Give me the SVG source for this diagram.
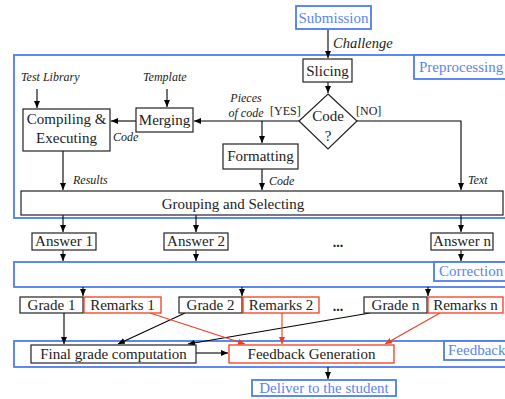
<svg xmlns="http://www.w3.org/2000/svg" width="505" height="399" viewBox="0 0 505 399">
<defs>
<marker id="ah" markerUnits="userSpaceOnUse" markerWidth="8" markerHeight="7" refX="7" refY="3" orient="auto"><path d="M0,0 L7,3 L0,6 z" fill="#000"/></marker>
<marker id="ahr" markerUnits="userSpaceOnUse" markerWidth="8" markerHeight="7" refX="7" refY="3" orient="auto"><path d="M0,0 L7,3 L0,6 z" fill="#f23c1e"/></marker>
</defs>
<style>
text{font-family:"Liberation Serif","Times New Roman",serif;font-size:15px;fill:#222}
.c{text-anchor:middle}
.it{font-style:italic;font-size:12px}
.bl{fill:#5a84f0}
.sm{font-size:12px}
.box{fill:#fff;stroke:#222;stroke-width:1.2}
.rbox{fill:#fff;stroke:#f23c1e;stroke-width:1.3}
.bbox{fill:none;stroke:#4d7cf2;stroke-width:1.8}
.blab{fill:#fff;stroke:#4d7cf2;stroke-width:1.8}
.ln{fill:none;stroke:#000;stroke-width:1.1}
.rl{fill:none;stroke:#f23c1e;stroke-width:1.1}
.dots{font-weight:bold;font-size:14px}
</style>
<g id="preprocessing">
<rect class="bbox" x="14" y="55" width="495" height="163"/>
<rect class="blab" x="414" y="55" width="95" height="24"/>
<text class="bl" x="419" y="72">Preprocessing</text>
</g>
<g id="correction">
<rect class="bbox" x="14" y="262" width="495" height="25"/>
<rect class="blab" x="434" y="262" width="75" height="19"/>
<text class="bl" x="439" y="276">Correction</text>
</g>
<g id="feedback">
<rect class="bbox" x="14" y="341" width="495" height="26"/>
<rect class="blab" x="444" y="341" width="65" height="19"/>
<text class="bl" x="448" y="355">Feedback</text>
</g>
<g id="connectors">
<path class="ln" d="M328,29 V58" marker-end="url(#ah)"/>
<path class="ln" d="M328,82 V93" marker-end="url(#ah)"/>
<path class="ln" d="M299,121 H194" marker-end="url(#ah)"/>
<path class="ln" d="M262,121 V143" marker-end="url(#ah)"/>
<path class="ln" d="M357,121 H461 V190" marker-end="url(#ah)"/>
<path class="ln" d="M136,121 H111" marker-end="url(#ah)"/>
<path class="ln" d="M37,89 V108" marker-end="url(#ah)"/>
<path class="ln" d="M167,89 V107" marker-end="url(#ah)"/>
<path class="ln" d="M63,151 V190" marker-end="url(#ah)"/>
<path class="ln" d="M262,169 V190" marker-end="url(#ah)"/>
<path class="ln" d="M63,215 V232" marker-end="url(#ah)"/>
<path class="ln" d="M196,215 V232" marker-end="url(#ah)"/>
<path class="ln" d="M461,215 V232" marker-end="url(#ah)"/>
<path class="ln" d="M63,250 V261" marker-end="url(#ah)"/>
<path class="ln" d="M196,250 V261" marker-end="url(#ah)"/>
<path class="ln" d="M461,250 V261" marker-end="url(#ah)"/>
<path class="ln" d="M83,287 V296" marker-end="url(#ah)"/>
<path class="ln" d="M242,287 V296" marker-end="url(#ah)"/>
<path class="ln" d="M428,287 V296" marker-end="url(#ah)"/>
<path class="ln" d="M64,313 V344" marker-end="url(#ah)"/>
<path class="ln" d="M185,313 L118,344" marker-end="url(#ah)"/>
<path class="ln" d="M370,313 L188,344" marker-end="url(#ah)"/>
<path class="rl" d="M150,313 L245,344" marker-end="url(#ahr)"/>
<path class="rl" d="M282,313 V344" marker-end="url(#ahr)"/>
<path class="rl" d="M440,313 L385,344" marker-end="url(#ahr)"/>
<path class="ln" d="M196,353 H228" marker-end="url(#ah)"/>
<path class="ln" d="M328,367 V379" marker-end="url(#ah)"/>
<text class="it" x="333" y="48" style="font-size:14.5px">Challenge</text>
<text class="it" x="21" y="81">Test Library</text>
<text class="it" x="143" y="81">Template</text>
<text class="it c" x="246" y="102">Pieces</text>
<text class="it c" x="246" y="117">of code</text>
<text class="sm" x="270" y="115">[YES]</text>
<text class="sm" x="356" y="115">[NO]</text>
<text class="it" x="113" y="141">Code</text>
<text class="it" x="73" y="184">Results</text>
<text class="it" x="269" y="185">Code</text>
<text class="it" x="468" y="184">Text</text>
</g>
<g id="submission">
<rect class="blab" x="296" y="6" width="75" height="23"/>
<text class="bl c" x="333.5" y="23">Submission</text>
</g>
<g id="slicing">
<rect class="box" x="303" y="59" width="49" height="23"/>
<text class="c" x="327.5" y="75.5">Slicing</text>
</g>
<g id="decision">
<path class="box" d="M328,94 L357,121 L328,149 L299,121 z"/>
<text class="c" x="328" y="121">Code</text>
<text class="c" x="328" y="141">?</text>
</g>
<g id="merging">
<rect class="box" x="136" y="108" width="57" height="24"/>
<text class="c" x="164.5" y="125">Merging</text>
</g>
<g id="compiling">
<rect class="box" x="23" y="109" width="87" height="42"/>
<text class="c" x="66.5" y="124">Compiling &amp;</text>
<text class="c" x="66.5" y="143">Executing</text>
</g>
<g id="formatting">
<rect class="box" x="223" y="144" width="75" height="25"/>
<text class="c" x="260.5" y="161">Formatting</text>
</g>
<g id="grouping">
<rect class="box" x="21" y="191" width="482" height="24"/>
<text class="c" x="233" y="208.5">Grouping and Selecting</text>
</g>
<g id="answer1"><rect class="box" x="32" y="233" width="64" height="17"/><text class="c" x="64" y="246">Answer 1</text></g>
<g id="answer2"><rect class="box" x="164" y="233" width="64" height="17"/><text class="c" x="196" y="246">Answer 2</text></g>
<g id="answerdots"><text class="c dots" x="338" y="247">...</text></g>
<g id="answern"><rect class="box" x="431" y="233" width="62" height="17"/><text class="c" x="462" y="246">Answer n</text></g>
<g id="grade1"><rect class="box" x="20" y="297" width="63" height="16"/><text class="c" x="51.5" y="310">Grade 1</text></g>
<g id="remarks1"><rect class="rbox" x="84" y="297" width="77" height="16"/><text class="c" x="122.5" y="310">Remarks 1</text></g>
<g id="grade2"><rect class="box" x="179" y="297" width="63" height="16"/><text class="c" x="210.5" y="310">Grade 2</text></g>
<g id="remarks2"><rect class="rbox" x="243" y="297" width="76" height="16"/><text class="c" x="281" y="310">Remarks 2</text></g>
<g id="gradedots"><text class="c dots" x="338" y="311">...</text></g>
<g id="graden"><rect class="box" x="364" y="297" width="63" height="16"/><text class="c" x="395.5" y="310">Grade n</text></g>
<g id="remarksn"><rect class="rbox" x="428" y="297" width="75" height="16"/><text class="c" x="465.5" y="310">Remarks n</text></g>
<g id="finalgrade"><rect class="box" x="31" y="345" width="165" height="18"/><text class="c" x="113.5" y="359">Final grade computation</text></g>
<g id="feedbackgen"><rect class="rbox" x="229" y="345" width="165" height="18"/><text class="c" x="311.5" y="359">Feedback Generation</text></g>
<g id="deliver"><rect class="blab" x="252" y="380" width="144" height="16"/><text class="bl c" x="324" y="393">Deliver to the student</text></g>
</svg>
